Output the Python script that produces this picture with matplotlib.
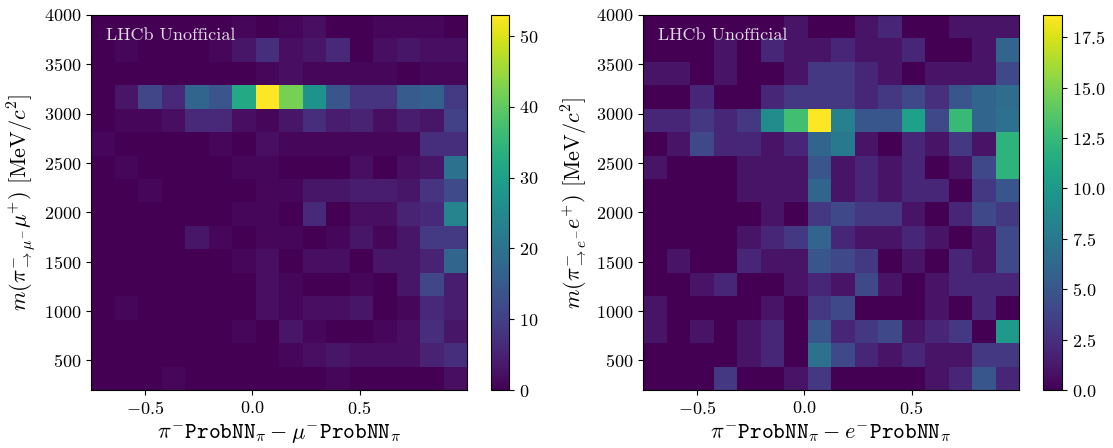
import numpy as np
import matplotlib
matplotlib.use("Agg")
import matplotlib.pyplot as plt

plt.rcParams['font.family'] = ['cmr10', 'DejaVu Serif']
plt.rcParams['mathtext.fontset'] = 'cm'
plt.rcParams['axes.formatter.use_mathtext'] = True
plt.rcParams['axes.unicode_minus'] = True

# bin edges
x_edges = np.linspace(-0.75, 1.0, 17)
y_edges = np.linspace(200, 4000, 17)

# counts, rows listed from top (3762-4000) to bottom (200-437)
mu_rows = [
    [0, 0, 0, 0, 0, 0, 1, 0, 1, 2, 0, 0, 1, 1, 1, 0],
    [0, 1, 0, 0, 0, 1, 3, 7, 2, 3, 6, 0, 2, 3, 2, 2],
    [0, 0, 0, 0, 0, 0, 0, 1, 2, 1, 1, 1, 1, 0, 1, 1],
    [0, 3, 11, 6, 17, 14, 32, 53, 42, 27, 14, 8, 8, 15, 16, 9],
    [0, 1, 1, 2, 6, 6, 2, 1, 3, 7, 4, 5, 2, 4, 3, 10],
    [1, 0, 0, 0, 0, 1, 0, 2, 1, 1, 1, 1, 1, 1, 7, 7],
    [0, 1, 0, 0, 0, 0, 1, 1, 0, 0, 0, 2, 0, 2, 3, 20],
    [0, 0, 1, 0, 0, 0, 0, 1, 1, 3, 3, 4, 4, 3, 8, 12],
    [0, 0, 0, 0, 0, 0, 1, 1, 0, 6, 0, 2, 2, 5, 6, 24],
    [0, 0, 0, 0, 3, 1, 0, 1, 1, 0, 1, 3, 1, 3, 9, 9],
    [0, 0, 0, 0, 0, 0, 1, 2, 0, 2, 2, 0, 3, 3, 5, 17],
    [0, 0, 0, 0, 0, 0, 0, 2, 1, 0, 0, 1, 0, 3, 11, 4],
    [0, 1, 0, 0, 0, 0, 0, 2, 1, 2, 2, 3, 0, 1, 6, 4],
    [0, 0, 0, 0, 0, 0, 1, 0, 3, 1, 0, 0, 1, 2, 7, 3],
    [0, 0, 0, 0, 0, 0, 0, 0, 1, 2, 3, 2, 2, 2, 5, 7],
    [0, 0, 0, 1, 0, 0, 0, 0, 0, 0, 1, 0, 0, 0, 0, 2],
]

e_rows = [
    [0, 0, 0, 0, 0, 0, 1, 0, 0, 1, 2, 0, 0, 1, 1, 1],
    [0, 0, 0, 1, 0, 2, 1, 1, 2, 1, 1, 2, 0, 0, 1, 6],
    [1, 1, 0, 1, 0, 0, 1, 3, 3, 2, 1, 0, 1, 1, 1, 4],
    [0, 0, 2, 0, 0, 2, 3, 3, 3, 2, 3, 4, 2.5, 5, 6, 6.5],
    [2, 2, 3, 2, 3, 9, 13, 18.6, 8, 5, 5, 10.5, 4, 12.5, 6, 7],
    [0, 1, 4, 2, 2, 1, 2, 6, 7.5, 1, 0, 2, 1, 3, 1, 12],
    [1, 0, 0, 0, 1, 1, 1, 5, 1, 2, 1, 2, 0, 1, 4, 12],
    [0, 0, 0, 0, 1, 1, 1, 6, 1, 2, 1, 2, 2, 0, 3, 5],
    [0, 0, 0, 0, 0, 1, 0, 3, 4, 3, 3, 1, 0, 2, 4, 3],
    [0, 0, 0, 0, 1, 2, 3, 6, 2, 1, 1, 2, 1, 0, 1, 4],
    [0, 1, 0, 0, 2, 1, 1, 5, 4, 3, 0, 1, 0, 2, 1, 4],
    [0, 0, 1, 2, 0, 0, 1, 2, 1, 4, 1, 0, 1, 2, 2, 2],
    [1, 0, 0, 0, 0, 1, 0, 3, 4, 0, 0, 0, 1, 0, 2, 0],
    [1, 0, 1, 0, 1, 2, 0, 5, 2, 3, 4, 1, 2, 3, 0, 10],
    [0, 0, 0, 0, 1, 2, 0, 7, 4, 2, 1, 2, 1, 1, 3, 3],
    [0, 0, 0, 3, 0, 0, 1, 3, 0, 0, 0, 0, 1, 2, 5, 2],
]

xlabels = [r'$\pi^{-}\mathtt{ProbNN}_{\pi} - \mu^{-}\mathtt{ProbNN}_{\pi}$',
           r'$\pi^{-}\mathtt{ProbNN}_{\pi} - e^{-}\mathtt{ProbNN}_{\pi}$']
ylabels = [r'$m(\pi^{-}_{\to\mu^{-}}\mu^{+})$ [MeV$/c^{2}$]',
           r'$m(\pi^{-}_{\to e^{-}}e^{+})$ [MeV$/c^{2}$]']

W, H = 1113, 448
fig = plt.figure(figsize=(W / 100, H / 100), dpi=100)

axes_px = [(91, 376), (643, 376)]
cbar_px = [(490.7, 18.6), (1042.7, 19.6)]
y0 = (H - 390) / H
hh = 375 / H

for i, rows in enumerate([mu_rows, e_rows]):
    counts = np.array(rows[::-1], dtype=float)
    ax = fig.add_axes([axes_px[i][0] / W, y0, axes_px[i][1] / W, hh])
    cax = fig.add_axes([cbar_px[i][0] / W, y0, cbar_px[i][1] / W, hh])
    mesh = ax.pcolormesh(x_edges, y_edges, counts, cmap='viridis',
                         vmin=0, vmax=counts.max())
    ax.set_xlim(-0.75, 1.0)
    ax.set_ylim(200, 4000)
    ax.set_xticks([-0.5, 0.0, 0.5])
    ax.set_yticks([500, 1000, 1500, 2000, 2500, 3000, 3500, 4000])
    ax.tick_params(labelsize=13)
    ax.set_xlabel(xlabels[i], fontsize=16)
    ax.set_ylabel(ylabels[i], fontsize=16)
    ax.text(0.04, 0.965, 'LHCb Unofficial', transform=ax.transAxes,
            color='white', alpha=0.85, fontsize=13, va='top', ha='left')
    cb = fig.colorbar(mesh, cax=cax)
    cb.ax.tick_params(labelsize=13)

fig.savefig('out.png', dpi=100)
